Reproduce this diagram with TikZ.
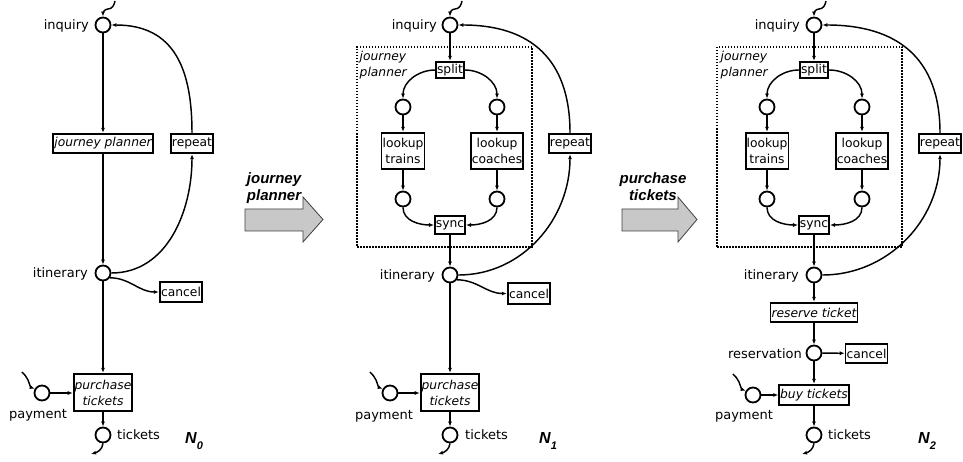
\documentclass[tikz,border=0pt]{standalone}
\usepackage{fontspec}
\setmainfont{DejaVu Sans}
\newfontfamily\headfont{Liberation Sans}
\usetikzlibrary{arrows.meta,calc}

\definecolor{shaftfill}{HTML}{C8C8C8}
\definecolor{shaftline}{HTML}{404040}

\tikzset{
  x=1pt, y=1pt,
  place/.style={circle, draw, line width=1.8pt, minimum size=15pt, inner sep=0pt},
  trans/.style={draw, line width=1.8pt, inner sep=1pt, align=center,
                font=\fontsize{12.3}{16}\selectfont},
  lab/.style={inner sep=0pt, font=\fontsize{13}{15}\selectfont},
  arc/.style={line width=1.45pt, -{Latex[length=5pt,width=4pt]}},
  frame/.style={draw, line width=1.7pt, dash pattern=on 1.5pt off 1.5pt,
                inner sep=0pt},
  framelab/.style={inner sep=0pt, align=left,
                   font=\itshape\fontsize{12.3}{16}\selectfont},
  bigarrow/.style={fill=shaftfill, draw=shaftline, line width=0.8pt,
                   line join=miter},
  arrowlab/.style={inner sep=0pt, align=center,
                   font=\headfont\bfseries\itshape\fontsize{15}{17}\selectfont},
  netlab/.style={inner sep=0pt, anchor=base west,
                 font=\headfont\bfseries\itshape\fontsize{16}{18}\selectfont},
}

\newcommand{\netname}[1]{N\raisebox{-6pt}{\fontsize{11}{11}\selectfont #1}}

\begin{document}
\begin{tikzpicture}
\useasboundingbox[fill=white] (0,0) rectangle (963,-462);

% ---------------- net N0 ----------------
\node[place] (i0) at (103,-25) {};
\node[trans, minimum width=98pt, minimum height=19.5pt] (jp0) at (103,-143.5) {\itshape journey planner};
\node[trans, minimum width=42.5pt, minimum height=19.5pt] (rp0) at (192,-143.5) {repeat};
\node[place] (it0) at (103,-273) {};
\node[trans, minimum width=42.5pt, minimum height=20.5pt] (cn0) at (181,-292) {cancel};
\node[trans, minimum width=58.5pt, minimum height=37.5pt, font=\itshape\fontsize{12.3}{16}\selectfont] (pt0) at (103,-392.5) {purchase\\tickets};
\node[place] (py0) at (42,-393) {};
\node[place] (tk0) at (103,-435) {};

\node[lab, anchor=east] (li0) at (89,-26) {inquiry};
\node[lab, anchor=east] (lit0) at (88,-274) {itinerary};
\node[lab] (lpy0) at (38,-415) {payment};
\node[lab, anchor=west] (ltk0) at (117,-435) {tickets};
\node[netlab] (n0) at (185,-443) {\netname{0}};

\coordinate (s0in) at (115,-1);
\coordinate (s0pay) at (22,-372);
\coordinate (s0out) at (91,-454);

\draw[arc] (s0in) to[out=-100,in=0] ++(-7,-8) to[out=180,in=90] (i0.north);
\draw[arc] (s0pay) to[out=-50,in=110] ++(6,-8) to[out=-70,in=160] (py0.150);
\draw[arc] (tk0.south) to[out=-95,in=15] (s0out);
\draw[arc] (i0) -- (jp0);
\draw[arc] (jp0) -- (it0);
\draw[arc] (it0) -- (pt0);
\draw[arc] (pt0) -- (tk0);
\draw[arc] (py0.east) -- (py0.east -| pt0.west);
\draw[arc] (rp0.north) to[out=90,in=0,looseness=1.2] (i0.east);
\draw[arc] (it0.east) to[out=0,in=-90] (rp0.south);
\draw[arc] (it0.-35) to[out=0,in=180] (cn0.west);

% ---------------- refinement arrow 1 ----------------
\draw[bigarrow] (245,-209) -- (303,-209) -- (303,-197) -- (323,-219.5)
  -- (303,-242) -- (303,-231) -- (245,-231) -- cycle;
\node[arrowlab] (al1) at (274,-188) {journey\\planner};

% ---------------- net N1 ----------------
\node[place] (i1) at (450,-25) {};
\node[frame, minimum width=175pt, minimum height=200pt] (fr1) at (444.5,-147) {};
\node[framelab, anchor=north west] (lfr1) at (359.5,-51) {journey\\planner};
\node[trans, minimum width=27.5pt, minimum height=16.5pt] (sp1) at (450,-70) {split};
\node[place] (c1a) at (403,-107) {};
\node[place] (c1b) at (497,-107) {};
\node[trans, minimum width=42.5pt, minimum height=36.5pt] (lt1) at (403,-151) {lookup\\trains};
\node[trans, minimum width=50.5pt, minimum height=36.5pt] (lc1) at (497,-151) {lookup\\coaches};
\node[place] (c1c) at (403,-199) {};
\node[place] (c1d) at (497,-199) {};
\node[trans, minimum width=28.5pt, minimum height=18.5pt] (sy1) at (450,-225) {sync};
\node[trans, minimum width=42.5pt, minimum height=19.5pt] (rp1) at (570,-143.5) {repeat};
\node[place] (it1) at (450,-275) {};
\node[trans, minimum width=42.5pt, minimum height=20.5pt] (cn1) at (529,-293.5) {cancel};
\node[trans, minimum width=58.5pt, minimum height=37.5pt, font=\itshape\fontsize{12.3}{16}\selectfont] (pt1) at (450,-392.5) {purchase\\tickets};
\node[place] (py1) at (390,-393) {};
\node[place] (tk1) at (450,-435) {};

\node[lab, anchor=east] (li1) at (437,-26) {inquiry};
\node[lab, anchor=east] (lit1) at (435,-276) {itinerary};
\node[lab] (lpy1) at (384,-416) {payment};
\node[lab, anchor=west] (ltk1) at (465,-435) {tickets};
\node[netlab] (n1) at (539,-443) {\netname{1}};

\coordinate (s1in) at (462,-1);
\coordinate (s1pay) at (370,-372);
\coordinate (s1out) at (438,-454);

\draw[arc] (s1in) to[out=-100,in=0] ++(-7,-8) to[out=180,in=90] (i1.north);
\draw[arc] (s1pay) to[out=-50,in=110] ++(6,-8) to[out=-70,in=160] (py1.150);
\draw[arc] (tk1.south) to[out=-95,in=15] (s1out);
\draw[arc] (i1) -- (sp1);
\draw[arc] (sp1.west) to[out=180,in=90] (c1a.north);
\draw[arc] (sp1.east) to[out=0,in=90] (c1b.north);
\draw[arc] (c1a) -- (lt1);
\draw[arc] (c1b) -- (lc1);
\draw[arc] (lt1) -- (c1c);
\draw[arc] (lc1) -- (c1d);
\draw[arc] (c1c.south) to[out=-90,in=180] (sy1.west);
\draw[arc] (c1d.south) to[out=-90,in=0] (sy1.east);
\draw[arc] (sy1) -- (it1);
\draw[arc] (it1) -- (pt1);
\draw[arc] (pt1) -- (tk1);
\draw[arc] (py1.east) -- (py1.east -| pt1.west);
\draw[arc] (rp1.north) to[out=90,in=0,looseness=1.2] (i1.east);
\draw[arc] (it1.east) to[out=0,in=-90] (rp1.south);
\draw[arc] (it1.-35) to[out=0,in=180] (cn1.west);

% ---------------- refinement arrow 2 ----------------
\draw[bigarrow] (622,-209) -- (678,-209) -- (678,-197) -- (697,-219.5)
  -- (678,-242) -- (678,-231) -- (622,-231) -- cycle;
\node[arrowlab] (al2) at (653,-187) {purchase\\tickets};

% ---------------- net N2 ----------------
\node[place] (i2) at (814,-25) {};
\node[frame, minimum width=185pt, minimum height=200pt] (fr2) at (809.5,-147) {};
\node[framelab, anchor=north west] (lfr2) at (720.5,-51) {journey\\planner};
\node[trans, minimum width=28.5pt, minimum height=16.5pt] (sp2) at (814,-70) {split};
\node[place] (c2a) at (767,-107) {};
\node[place] (c2b) at (862,-107) {};
\node[trans, minimum width=42.5pt, minimum height=36.5pt] (lt2) at (767,-151) {lookup\\trains};
\node[trans, minimum width=51.5pt, minimum height=36.5pt] (lc2) at (862,-151) {lookup\\coaches};
\node[place] (c2c) at (767,-199) {};
\node[place] (c2d) at (862,-199) {};
\node[trans, minimum width=29.5pt, minimum height=18.5pt] (sy2) at (814,-225) {sync};
\node[trans, minimum width=42.5pt, minimum height=19.5pt] (rp2) at (940,-143.5) {repeat};
\node[place] (it2) at (814,-275) {};
\node[trans, minimum width=84.5pt, minimum height=19.5pt] (rt2) at (814,-312.5) {\itshape reserve ticket};
\node[place] (rs2) at (814,-353) {};
\node[trans, minimum width=41.5pt, minimum height=19.5pt] (cn2) at (866.5,-353.5) {cancel};
\node[trans, minimum width=68.5pt, minimum height=20.5pt] (bt2) at (814,-395) {\itshape buy tickets};
\node[place] (py2) at (753,-395) {};
\node[place] (tk2) at (814,-435) {};

\node[lab, anchor=east] (li2) at (800,-26) {inquiry};
\node[lab, anchor=east] (lit2) at (799,-276) {itinerary};
\node[lab, anchor=east] (lrs2) at (802,-354) {reservation};
\node[lab] (lpy2) at (744,-416) {payment};
\node[lab, anchor=west] (ltk2) at (828,-435) {tickets};
\node[netlab] (n2) at (918,-443) {\netname{2}};

\coordinate (s2in) at (826,-1);
\coordinate (s2pay) at (733,-374);
\coordinate (s2out) at (802,-454);

\draw[arc] (s2in) to[out=-100,in=0] ++(-7,-8) to[out=180,in=90] (i2.north);
\draw[arc] (s2pay) to[out=-50,in=110] ++(6,-8) to[out=-70,in=160] (py2.150);
\draw[arc] (tk2.south) to[out=-95,in=15] (s2out);
\draw[arc] (i2) -- (sp2);
\draw[arc] (sp2.west) to[out=180,in=90] (c2a.north);
\draw[arc] (sp2.east) to[out=0,in=90] (c2b.north);
\draw[arc] (c2a) -- (lt2);
\draw[arc] (c2b) -- (lc2);
\draw[arc] (lt2) -- (c2c);
\draw[arc] (lc2) -- (c2d);
\draw[arc] (c2c.south) to[out=-90,in=180] (sy2.west);
\draw[arc] (c2d.south) to[out=-90,in=0] (sy2.east);
\draw[arc] (sy2) -- (it2);
\draw[arc] (it2) -- (rt2);
\draw[arc] (rt2) -- (rs2);
\draw[arc] (rs2) -- (cn2);
\draw[arc] (rs2) -- (bt2);
\draw[arc] (bt2) -- (tk2);
\draw[arc] (py2) -- (bt2);
\draw[arc] (rp2.north) to[out=90,in=0,looseness=1.2] (i2.east);
\draw[arc] (it2.east) to[out=0,in=-90] (rp2.south);
\end{tikzpicture}
\end{document}
